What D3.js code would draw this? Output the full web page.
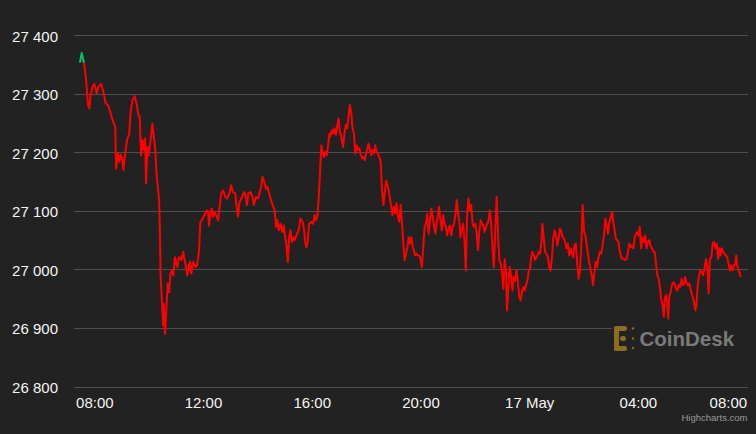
<!DOCTYPE html>
<html>
<head>
<meta charset="utf-8">
<script src="https://cdn.jsdelivr.net/npm/d3@7"></script>
<style>
  body { margin: 0; background: #222222; }
  svg { display: block; font-family: "Liberation Sans", Arial, Helvetica, sans-serif; }
</style>
</head>
<body>
<div id="chart-area"></div>
<script>
// BTC price, minutes counted from 16 May 00:00
var minutes = [
  447, 451, 456, 460, 465, 468, 470, 475, 479, 484, 488, 494, 498, 504, 509, 513, 518, 522, 525, 527,
  531, 534, 537, 540, 543, 547, 551, 556, 559, 563, 568, 572, 576, 579, 582, 585, 588, 591, 593, 596,
  599, 601, 604, 607, 610, 613, 616, 619, 622, 624, 625, 628, 631, 632, 635, 638, 641, 644, 647, 650,
  653, 657, 662, 666, 671, 675, 679, 684, 688,
  690, 693, 697, 702, 706, 710, 713, 718, 722, 727, 730, 732, 735, 738, 741, 744, 749, 752, 755, 759,
  763, 768, 772, 777, 781, 785, 790, 793, 796, 799, 803, 808, 810, 813, 816, 819, 824, 828, 831, 836,
  840, 844, 847, 850, 855, 858, 861, 865, 869, 874, 877, 880, 883, 886, 890, 894, 897, 900, 903, 906,
  909, 912, 915, 918, 921, 925, 930, 934, 939,
  942, 945, 947, 950, 953, 958, 962, 965, 968, 971, 974, 977, 980, 983, 986, 989, 992, 995, 998, 1000,
  1003, 1006, 1009, 1012, 1015, 1018, 1021, 1024, 1028, 1031, 1034, 1037, 1040, 1043, 1046, 1049, 1052, 1055, 1058, 1061,
  1064, 1067, 1070, 1073, 1076, 1078, 1081, 1084, 1087, 1090, 1093, 1096, 1099, 1102, 1105, 1108, 1111, 1114, 1117, 1120,
  1123, 1126, 1129, 1131, 1134, 1137, 1140, 1143, 1146, 1149, 1152, 1155, 1158, 1161, 1164, 1167, 1170, 1173, 1176, 1179,
  1182, 1184, 1187, 1190, 1193, 1196,
  1198, 1202, 1205, 1208, 1211, 1214, 1217, 1220, 1223, 1226, 1229, 1232, 1234, 1237, 1240, 1243, 1246, 1249, 1252, 1255,
  1258, 1261, 1264, 1267, 1270, 1273, 1276, 1279, 1282, 1285, 1287, 1290, 1293, 1296, 1299, 1302, 1305, 1308, 1311, 1314,
  1317, 1320, 1323, 1326, 1329, 1332, 1335, 1338, 1340, 1343, 1346, 1349, 1352, 1355, 1358, 1361, 1364, 1367, 1370, 1373,
  1376, 1379, 1382, 1385, 1388, 1390, 1393, 1396, 1399, 1402, 1405, 1408, 1411, 1414, 1417, 1420, 1423, 1426, 1429, 1432,
  1435, 1438, 1441, 1443, 1446, 1449, 1452,
  1457, 1460, 1463, 1466, 1468, 1471, 1474, 1477, 1480, 1483, 1486, 1489, 1492, 1495, 1498, 1501, 1504, 1507, 1510, 1513,
  1516, 1519, 1521, 1524, 1527, 1530, 1533, 1536, 1539, 1542, 1545, 1548, 1551, 1554, 1557, 1560, 1563, 1566, 1569, 1572,
  1574, 1577, 1580, 1583, 1586, 1589, 1592, 1595, 1598, 1601, 1604, 1607, 1610, 1613, 1616, 1619, 1622, 1625, 1627, 1630,
  1633, 1636, 1639, 1642, 1645, 1648, 1651, 1654, 1657, 1660, 1663, 1666, 1669, 1672, 1675, 1678, 1680, 1683, 1686, 1689,
  1692, 1695, 1698, 1701, 1704, 1707, 1710, 1713,
  1716, 1719, 1722, 1725, 1728, 1730, 1733, 1736, 1738, 1741, 1744, 1746, 1748, 1751, 1754, 1757, 1760, 1763, 1766, 1769,
  1772, 1775, 1778, 1781, 1783, 1786, 1789, 1792, 1795, 1798, 1801, 1804, 1806, 1808, 1811, 1814, 1817, 1820, 1823, 1826,
  1829, 1832, 1835, 1838, 1841, 1844, 1847, 1850, 1853, 1856, 1859, 1861, 1864, 1867, 1870, 1873, 1876, 1879, 1882, 1885,
  1888, 1891, 1894, 1896, 1898, 1901, 1904, 1906
];

var prices = [
  27353, 27370, 27353, 27329, 27281, 27275, 27295, 27312, 27317, 27301, 27312, 27317, 27306, 27284, 27281, 27272, 27258, 27249, 27244, 27172,
  27198, 27184, 27196, 27191, 27170, 27198, 27221, 27232, 27269, 27289, 27296, 27284, 27264, 27261, 27195, 27221, 27204, 27224, 27147, 27209,
  27195, 27209, 27227, 27249, 27230, 27209, 27164, 27141, 27118, 27050, 26993, 26947, 26904, 26941, 26890, 26936, 26976, 26961, 26993, 26998,
  26990, 27021, 27004, 27021, 27016, 27030, 27013, 26990, 27007,
  27013, 26993, 27013, 27004, 27007, 27033, 27081, 27087, 27093, 27101, 27099, 27075, 27095, 27104, 27090, 27099, 27090, 27084, 27104, 27130,
  27135, 27124, 27121, 27130, 27144, 27132, 27130, 27107, 27090, 27113, 27121, 27130, 27132, 27124, 27110, 27130, 27132, 27124, 27110, 27124,
  27121, 27132, 27141, 27158, 27147, 27138, 27141, 27130, 27118, 27107, 27101, 27073, 27084, 27067, 27078, 27064, 27075, 27055, 27041, 27013,
  27055, 27067, 27047, 27055, 27050, 27058, 27067, 27087, 27081,
  27067, 27044, 27038, 27047, 27078, 27081, 27078, 27093, 27084, 27090, 27118, 27164, 27212, 27201, 27192, 27201, 27195, 27212, 27232, 27227,
  27238, 27232, 27241, 27230, 27244, 27258, 27235, 27227, 27209, 27232, 27247, 27241, 27261, 27281, 27267, 27241, 27232, 27198, 27212, 27204,
  27207, 27195, 27190, 27192, 27187, 27195, 27204, 27215, 27207, 27195, 27204, 27198, 27212, 27201, 27198, 27192, 27184, 27135, 27110, 27130,
  27152, 27144, 27135, 27124, 27110, 27093, 27107, 27096, 27113, 27090, 27081, 27110, 27081, 27044, 27016, 27027, 27038, 27055, 27044, 27055,
  27038, 27033, 27024, 27027, 27024, 27024,
  27021, 27004, 27038, 27073, 27078, 27095, 27061, 27084, 27104, 27090, 27073, 27061, 27078, 27090, 27107, 27084, 27067, 27093, 27078, 27073,
  27058, 27070, 27075, 27058, 27073, 27078, 27093, 27118, 27095, 27081, 27055, 27067, 27078, 27050, 26998, 27095, 27121, 27101, 27110, 27078,
  27073, 27078, 27061, 27033, 27067, 27084, 27078, 27075, 27064, 27070, 27078, 27084, 27101, 27078, 27036, 27004, 27067, 27124, 27067, 27016,
  27010, 26993, 26967, 27018, 26993, 26930, 26970, 27004, 26990, 26964, 26987, 26981, 26998, 26978, 26953, 26947, 26961, 26970, 26964, 26973,
  26981, 26998, 27001, 27021, 27030, 27024, 27016,
  27024, 27030, 27027, 27047, 27078, 27055, 27030, 27027, 27021, 27004, 26998, 27018, 27053, 27067, 27058, 27041, 27053, 27070, 27064, 27055,
  27053, 27044, 27036, 27044, 27024, 27036, 27027, 27021, 27041, 27044, 27010, 26984, 26998, 27041, 27110, 27064, 27058, 27041, 27024, 27010,
  27001, 26990, 26973, 26996, 27013, 27004, 27021, 27030, 27027, 27041, 27058, 27087, 27075, 27061, 27081, 27090, 27098, 27078, 27070, 27053,
  27050, 27047, 27030, 27021, 27018, 27018, 27016, 27018, 27030, 27044, 27038, 27041, 27036, 27055, 27061, 27064, 27058, 27073, 27036, 27055,
  27047, 27058, 27036, 27047, 27050, 27041, 27036, 27030,
  27030, 27010, 26990, 26984, 26967, 26950, 26941, 26919, 26950, 26956, 26938, 26916, 26953, 26961, 26973, 26978, 26976, 26967, 26964, 26973,
  26970, 26984, 26973, 26976, 26987, 26978, 26973, 26976, 26967, 26958, 26950, 26938, 26930, 26938, 26973, 26990, 26998, 26996, 26990, 27001,
  27018, 27007, 26959, 27018, 27021, 27044, 27047, 27036, 27044, 27018, 27036, 27024, 27036, 27030, 27027, 27024, 27021, 27010, 26998, 27007,
  26998, 27007, 27010, 27024, 27007, 26998, 26993, 26987
];

var yTicks = [26800, 26900, 27000, 27100, 27200, 27300, 27400];

var width = 756, height = 434;
var plot = { left: 74, right: 748, top: 35.3, bottom: 386.5 };

var svg = d3.select("#chart-area").append("svg")
  .attr("width", width)
  .attr("height", height);

svg.append("rect")
  .attr("width", width)
  .attr("height", height)
  .attr("fill", "#222222");

var day0 = new Date(2023, 4, 16);
var toDate = function(m) { return d3.timeMinute.offset(day0, m); };

var data = minutes.map(function(m, i) { return { date: toDate(m), price: prices[i] }; });

// Scales
var x = d3.scaleTime()
  .domain([toDate(7 * 60 + 14), toDate(32 * 60 + 2)])
  .range([plot.left, plot.right]);
var y = d3.scaleLinear()
  .domain([26800, 27400])
  .range([plot.bottom, plot.top]);

var locale = d3.formatLocale({ decimal: ".", thousands: "\u00a0", grouping: [3], currency: ["", ""] });
var formatPrice = locale.format(",");

// Gridlines
svg.append("g")
  .selectAll("line")
  .data(yTicks)
  .enter().append("line")
  .attr("x1", plot.left)
  .attr("x2", plot.right)
  .attr("y1", function(d) { return Math.round(y(d)) + 0.5; })
  .attr("y2", function(d) { return Math.round(y(d)) + 0.5; })
  .attr("stroke", "#4f4f4f")
  .attr("stroke-width", 1);

// Y labels
svg.append("g")
  .selectAll("text")
  .data(yTicks)
  .enter().append("text")
  .attr("x", 58)
  .attr("y", function(d) { return y(d) + 6.5; })
  .attr("text-anchor", "end")
  .attr("font-size", "15px")
  .attr("fill", "#f4f4f4")
  .text(formatPrice);

// X axis labels
var xTicks = x.ticks(d3.timeHour.every(4));
var formatTick = function(d) {
  return d.getHours() === 0 ? d3.timeFormat("%-d %B")(d) : d3.timeFormat("%H:%M")(d);
};
svg.append("g")
  .selectAll("text")
  .data(xTicks)
  .enter().append("text")
  .attr("x", function(d) { return x(d); })
  .attr("y", 408.3)
  .attr("text-anchor", function(d, i) { return i === xTicks.length - 1 ? "end" : "middle"; })
  .attr("font-size", "15px")
  .attr("fill", "#f4f4f4")
  .text(formatTick);

// Watermark
var wm = svg.append("g");
wm.append("rect")
  .attr("x", 612).attr("y", 322)
  .attr("width", 136).attr("height", 32)
  .attr("fill", "#222222");
var gold = "#8c6d22";
wm.append("rect").attr("x", 614).attr("y", 326).attr("width", 13).attr("height", 5).attr("rx", 2.5).attr("fill", gold);
wm.append("rect").attr("x", 614).attr("y", 326).attr("width", 5).attr("height", 25).attr("rx", 2.5).attr("fill", gold);
wm.append("rect").attr("x", 614).attr("y", 346).attr("width", 13).attr("height", 5).attr("rx", 2.5).attr("fill", gold);
wm.append("rect").attr("x", 620).attr("y", 336).attr("width", 6).attr("height", 5).attr("rx", 2.5).attr("fill", gold);
[328.5, 338.5, 348].forEach(function(cy) {
  wm.append("circle").attr("cx", 633).attr("cy", cy).attr("r", 1.2).attr("fill", gold);
});
wm.append("text")
  .attr("x", 639.5)
  .attr("y", 346.3)
  .attr("font-size", "20.5px")
  .attr("font-weight", "bold")
  .attr("fill", "#7a7a7a")
  .text("CoinDesk");

// Price line, green above the opening price, red below
var line = d3.line()
  .x(function(d) { return x(d.date); })
  .y(function(d) { return y(d.price); });

var open = prices[0];
var defs = svg.append("defs");
defs.append("clipPath").attr("id", "clip-up")
  .append("rect")
  .attr("x", 0).attr("y", 0)
  .attr("width", width).attr("height", y(open));
defs.append("clipPath").attr("id", "clip-down")
  .append("rect")
  .attr("x", 0).attr("y", y(open))
  .attr("width", width).attr("height", height - y(open));

svg.append("path")
  .datum(data)
  .attr("fill", "none")
  .attr("stroke", "#ff0000")
  .attr("stroke-width", 2)
  .attr("stroke-linejoin", "round")
  .attr("clip-path", "url(#clip-down)")
  .attr("d", line);

svg.append("path")
  .datum(data)
  .attr("fill", "none")
  .attr("stroke", "#00c46a")
  .attr("stroke-width", 2)
  .attr("stroke-linejoin", "round")
  .attr("clip-path", "url(#clip-up)")
  .attr("d", line);

// Credits
svg.append("text")
  .attr("x", 747.5)
  .attr("y", 420.7)
  .attr("text-anchor", "end")
  .attr("font-size", "9.5px")
  .attr("fill", "#9a9a9a")
  .text("Highcharts.com");
</script>
</body>
</html>
